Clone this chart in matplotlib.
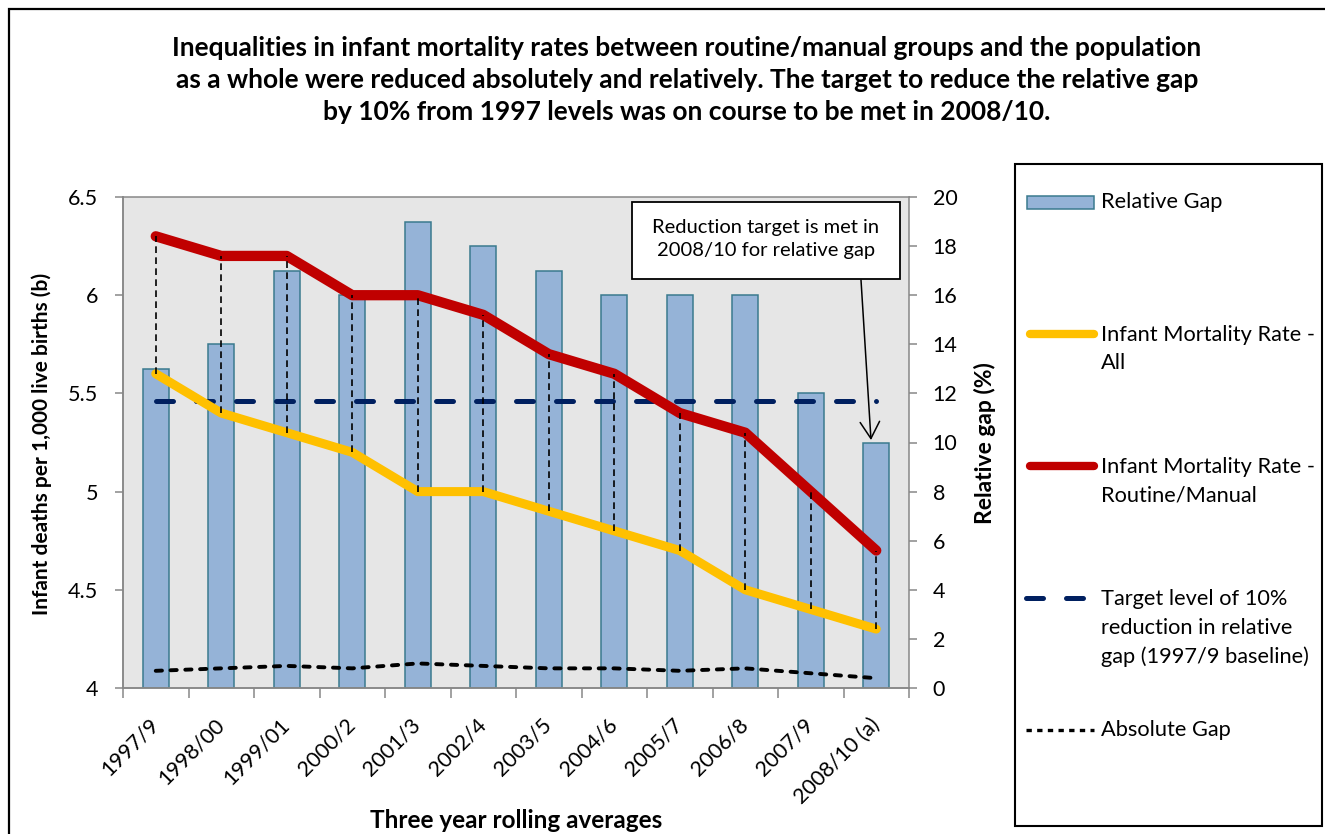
import matplotlib
matplotlib.use("Agg")
import matplotlib.pyplot as plt
from matplotlib.patches import Rectangle
from matplotlib.lines import Line2D
from matplotlib.ticker import FixedLocator, FuncFormatter
from matplotlib.transforms import ScaledTranslation

plt.rcParams['font.family'] = ['Lato', 'DejaVu Sans']

# ---- data -------------------------------------------------------------
periods = ["1997/9", "1998/00", "1999/01", "2000/2", "2001/3", "2002/4",
           "2003/5", "2004/6", "2005/7", "2006/8", "2007/9", "2008/10 (a)"]
relative_gap = [13, 14, 17, 16, 19, 18, 17, 16, 16, 16, 12, 10]          # %
imr_all = [5.6, 5.4, 5.3, 5.2, 5.0, 5.0, 4.9, 4.8, 4.7, 4.5, 4.4, 4.3]
imr_routine = [6.3, 6.2, 6.2, 6.0, 6.0, 5.9, 5.7, 5.6, 5.4, 5.3, 5.0, 4.7]
absolute_gap = [0.7, 0.8, 0.9, 0.8, 1.0, 0.9, 0.8, 0.8, 0.7, 0.8, 0.6, 0.4]
target_level = [11.7] * len(periods)                                      # 90% of 1997/9 gap

title = ("Inequalities in infant mortality rates between routine/manual groups and the population\n"
         "as a whole were reduced absolutely and relatively. The target to reduce the relative gap\n"
         "by 10% from 1997 levels was on course to be met in 2008/10.")

# ---- styling ----------------------------------------------------------
W, H = 1325, 834
BAR_FACE = "#95B3D7"
BAR_EDGE = "#3A7A8E"
YELLOW = "#FFC000"
RED = "#C00000"
NAVY = "#002060"
GRID = "#878787"
PLOT_BG = "#E6E6E6"
TICK_FS = 15.5


def fx(px):
    return px / W


def fy(py):
    return 1 - py / H


fig = plt.figure(figsize=(W / 100, H / 100), dpi=100)

# Relative-gap axes underneath: background, grid and bars
ax2 = fig.add_axes([fx(123), fy(688), fx(909) - fx(123), fy(197) - fy(688)])
# Mortality-rate axes on top, sharing the category axis
ax = fig.add_axes(ax2.get_position(), sharex=ax2)
ax.set_zorder(ax2.get_zorder() + 1)
ax.patch.set_visible(False)

x = list(range(len(periods)))

ax2.set_facecolor(PLOT_BG)
ax2.bar(x, relative_gap, width=0.4, color=BAR_FACE, edgecolor=BAR_EDGE,
        linewidth=1.1, zorder=2)
ax2.plot(x, target_level, color=NAVY, lw=3.6, dashes=(3.4, 4.6),
         dash_capstyle='round', zorder=3)
ax2.plot(x, absolute_gap, color='black', lw=2.8, dashes=(1.6, 2.2),
         dash_capstyle='round', zorder=3)

ax2.set_xlim(-0.5, len(periods) - 0.5)
ax2.set_ylim(0, 20)
ax2.yaxis.set_major_locator(FixedLocator(range(0, 21, 2)))
ax2.yaxis.set_minor_locator(FixedLocator(range(0, 21, 4)))
ax2.grid(axis='y', which='minor', color=GRID, lw=1.1, zorder=0)
ax2.set_axisbelow(True)
ax2.yaxis.tick_right()
ax2.tick_params(axis='y', which='major', direction='out', length=6, width=1.1,
                color=GRID, labelsize=TICK_FS, pad=11)
ax2.tick_params(axis='y', which='minor', length=0)

# Rate lines and the high-low connectors between them
ax.plot(x, imr_all, color=YELLOW, lw=6.5, solid_capstyle='round',
        solid_joinstyle='round', zorder=3)
ax.plot(x, imr_routine, color=RED, lw=7.4, solid_capstyle='round',
        solid_joinstyle='round', zorder=4)
ax.vlines(x, imr_all, imr_routine, colors='black', lw=1.2,
          linestyles=(0, (4, 2.6)), zorder=5)
ax.set_ylim(4, 6.5)
ax.yaxis.set_major_locator(FixedLocator([4, 4.5, 5, 5.5, 6, 6.5]))
ax.yaxis.set_major_formatter(FuncFormatter(lambda v, p: f"{v:g}"))
ax.tick_params(axis='y', direction='out', length=6, width=1.1, color=GRID,
               labelsize=TICK_FS, pad=12)

# Category axis: ticks on boundaries, labels in the middle
ax2.xaxis.set_major_locator(FixedLocator([i - 0.5 for i in range(len(periods) + 1)]))
ax2.xaxis.set_minor_locator(FixedLocator(x))
ax2.set_xticklabels([], minor=False)
ax2.set_xticklabels(periods, minor=True, rotation=45, ha='right', va='top')
ax2.tick_params(axis='x', which='major', direction='out', length=7, width=1.1,
                color=GRID)
ax2.tick_params(axis='x', which='minor', length=0, labelsize=TICK_FS, pad=19)
shift = ScaledTranslation(5 / 72, 0, fig.dpi_scale_trans)
for lab in ax2.get_xticklabels(minor=True):
    lab.set_transform(lab.get_transform() + shift)
ax.tick_params(axis='x', which='both', length=0, labelbottom=False)

for a in (ax, ax2):
    for s in a.spines.values():
        s.set_color(GRID)
        s.set_linewidth(1.1)
ax.spines['top'].set_visible(False)
ax.spines['right'].set_visible(False)

# Axis titles
fig.text(fx(42), fy(444), "Infant deaths per 1,000 live births (b)", fontsize=15,
         fontweight='bold', rotation=90, ha='center', va='center')
fig.text(fx(985), fy(443), "Relative gap (%)", fontsize=16.5,
         fontweight='bold', rotation=90, ha='center', va='center')
fig.text(fx(516), fy(820), "Three year rolling averages", fontsize=17.5,
         fontweight='bold', ha='center', va='center')

# Title
fig.text(fx(687), fy(80), title, fontsize=19, fontweight='bold',
         ha='center', va='center', linespacing=1.38)

# Callout with arrow to the final bar
fig.add_artist(Rectangle((fx(632), fy(279)), fx(900) - fx(632), fy(202) - fy(279),
                         transform=fig.transFigure, facecolor='white',
                         edgecolor='black', lw=1.3, zorder=10))
fig.text(fx(766), fy(239), "Reduction target is met in\n2008/10 for relative gap",
         fontsize=14.5, ha='center', va='center', linespacing=1.46, zorder=11)
ax2.annotate("", xy=(x[-1] - 0.08, relative_gap[-1] + 0.1),
             xytext=(fx(861), fy(280)), textcoords='figure fraction',
             arrowprops=dict(arrowstyle='->,head_length=1.2,head_width=0.7',
                             color='black', lw=1.1, shrinkA=0, shrinkB=0),
             annotation_clip=False, zorder=12)

# Legend panel
fig.add_artist(Rectangle((fx(1015), fy(826)), fx(1322) - fx(1015), fy(164) - fy(826),
                         transform=fig.transFigure, facecolor='white',
                         edgecolor='black', lw=1.5))
fig.add_artist(Rectangle((fx(1027), fy(209)), fx(1094) - fx(1027), fy(196) - fy(209),
                         transform=fig.transFigure, facecolor=BAR_FACE,
                         edgecolor=BAR_EDGE, lw=1.1))
fig.add_artist(Line2D([fx(1030), fx(1094)], [fy(334)] * 2, transform=fig.transFigure,
                      color=YELLOW, lw=6, solid_capstyle='round'))
fig.add_artist(Line2D([fx(1030), fx(1094)], [fy(466)] * 2, transform=fig.transFigure,
                      color=RED, lw=6, solid_capstyle='round'))
fig.add_artist(Line2D([fx(1026), fx(1088)], [fy(598)] * 2, transform=fig.transFigure,
                      color=NAVY, lw=3.6, dashes=(3.4, 4.6), dash_capstyle='round'))
fig.add_artist(Line2D([fx(1026), fx(1094)], [fy(730)] * 2, transform=fig.transFigure,
                      color='black', lw=2.4, dashes=(1.6, 1.6), dash_capstyle='butt'))
legend_entries = [
    (202, "Relative Gap"),
    (349, "Infant Mortality Rate -\nAll"),
    (481, "Infant Mortality Rate -\nRoutine/Manual"),
    (628, "Target level of 10%\nreduction in relative\ngap (1997/9 baseline)"),
    (730, "Absolute Gap"),
]
for ypx, label in legend_entries:
    fig.text(fx(1101), fy(ypx), label, fontsize=15.7, ha='left', va='center',
             linespacing=1.52)

# Outer frame
fig.add_artist(Rectangle((fx(9), -0.1), 1.2, fy(9) + 0.1, transform=fig.transFigure,
                         facecolor='none', edgecolor='black', lw=1.6))

fig.savefig("out.png", dpi=100)
